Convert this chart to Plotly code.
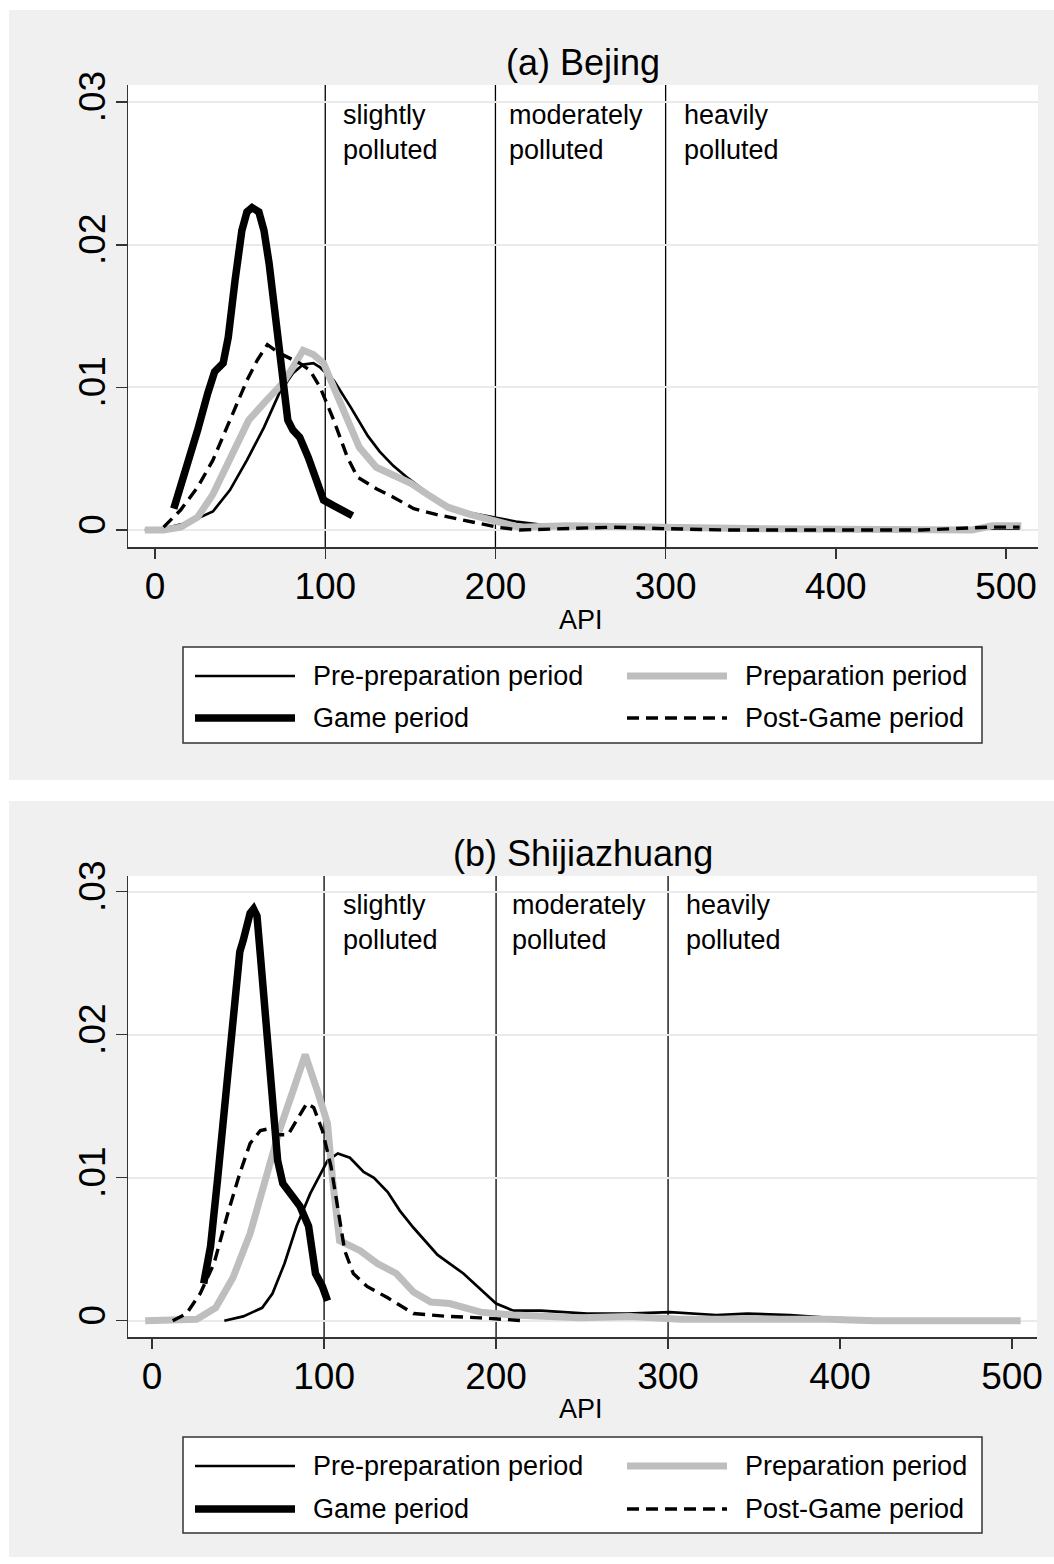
import plotly.graph_objects as go

W, H = 1054, 1564

# ---------------- data ----------------
series_names = ["Pre-preparation period", "Preparation period", "Game period", "Post-Game period"]
x_ticks = [0, 100, 200, 300, 400, 500]
y_ticks = [0, 0.01, 0.02, 0.03]
y_tick_text = ["0", ".01", ".02", ".03"]
cut_points = [100, 200, 300]
panel_titles = ["(a) Bejing", "(b) Shijiazhuang"]
category_labels = ["slightly<br>polluted", "moderately<br>polluted", "heavily<br>polluted"]

# Panel (a) Beijing
bj_pre_x = [-6, 5, 19, 34, 44, 54, 64, 73, 81, 87, 93, 97, 105, 115, 125, 132, 140, 149, 160, 172, 185, 199, 212, 225, 245, 270, 300, 350, 400, 450, 508]
bj_pre_y = [0, .0001, .0005, .0013, .0028, .0049, .0072, .0096, .0110, .0116, .0117, .0114, .0105, .0086, .0066, .0055, .0045, .0036, .0026, .0017, .0012, .0009, .0006, .0004, .0002, .0002, .0002, .0001, .0001, .0001, .0001]
bj_prep_x = [-6, 5, 15, 25, 34, 44, 55, 64, 75, 81, 87, 93, 99, 105, 113, 120, 130, 142, 150, 160, 172, 185, 199, 214, 242, 269, 298, 350, 400, 450, 480, 492, 509]
bj_prep_y = [0, 0, .0002, .0009, .0025, .0049, .0077, .0089, .0103, .0114, .0126, .0123, .0117, .0100, .0077, .0058, .0044, .0037, .0033, .0025, .0016, .0011, .0007, .0002, .0003, .0002, .0002, .0001, .0001, 0, 0, .0003, .0003]
bj_game_x = [11, 15, 19, 25, 31, 35, 40, 43, 47, 51, 54, 57, 61, 64, 67, 71, 75, 78, 81, 85, 90, 95, 99, 105, 112, 116]
bj_game_y = [.0015, .0030, .0047, .0070, .0096, .0111, .0117, .0135, .0175, .0210, .0223, .0226, .0223, .0210, .0187, .0145, .0100, .0077, .0070, .0065, .0051, .0033, .0021, .0017, .0012, .0010]
bj_post_x = [5, 15, 25, 34, 44, 54, 60, 66, 73, 85, 91, 97, 105, 113, 119, 130, 140, 152, 165, 181, 201, 214, 240, 269, 298, 338, 400, 450, 490, 508]
bj_post_y = [.0002, .0014, .0030, .0049, .0077, .0105, .0119, .0130, .0124, .0117, .0112, .0100, .0077, .0051, .0037, .0029, .0023, .0015, .0011, .0007, .0002, 0, .0001, .0002, .0001, 0, 0, 0, .0002, .0002]

# Panel (b) Shijiazhuang
sjz_pre_x = [42, 53, 64, 70, 77, 84, 92, 102, 108, 115, 123, 129, 137, 144, 152, 166, 181, 200, 210, 226, 253, 276, 301, 328, 346, 371, 394, 420]
sjz_pre_y = [0, .0003, .0009, .0019, .0040, .0066, .0089, .0112, .0117, .0114, .0104, .0100, .0090, .0077, .0065, .0046, .0033, .0012, .0007, .0007, .0005, .0005, .0006, .0004, .0005, .0004, .0002, .0001]
sjz_prep_x = [-4, 12, 26, 37, 47, 57, 67, 74, 82, 89, 96, 102, 105, 109, 121, 131, 142, 152, 162, 173, 191, 210, 249, 278, 307, 327, 365, 393, 420, 460, 505]
sjz_prep_y = [0, 0, .0001, .0009, .0030, .0061, .0103, .0133, .0161, .0186, .0161, .0138, .0098, .0056, .0049, .0040, .0033, .0020, .0013, .0012, .0006, .0004, .0002, .0003, .0001, .0001, .0002, .0001, 0, 0, 0]
sjz_game_x = [30, 34, 38, 42, 44, 48, 51, 53, 55, 57, 59, 61, 63, 65, 67, 70, 73, 76, 81, 86, 91, 95, 99, 102]
sjz_game_y = [.0026, .0052, .0098, .0145, .0180, .0225, .0258, .0266, .0275, .0285, .0288, .0283, .0255, .0225, .0191, .0145, .0112, .0096, .0089, .0080, .0066, .0033, .0024, .0014]
sjz_post_x = [12, 20, 28, 36, 44, 51, 57, 63, 67, 74, 79, 84, 90, 94, 99, 104, 108, 112, 117, 125, 137, 152, 172, 191, 216]
sjz_post_y = [0, .0005, .0019, .0040, .0075, .0103, .0124, .0133, .0134, .0130, .0130, .0140, .0152, .0149, .0133, .0108, .0077, .0049, .0033, .0024, .0016, .0005, .0003, .0002, 0]

# ---------------- styles ----------------
FONT = "Liberation Sans, Arial, sans-serif"
GRAY_BG = "#F0F0F0"
AXC = "#333333"
styles = {
    "Pre-preparation period": dict(color="black", width=2.7, dash="solid"),
    "Preparation period": dict(color="#BEBEBE", width=7, dash="solid"),
    "Game period": dict(color="black", width=7.5, dash="solid"),
    "Post-Game period": dict(color="black", width=3.4, dash="12px,7px"),
}

def fx(px):
    return px / W

def fy(py):
    return 1 - py / H

panels = [
    dict(data={"Pre-preparation period": (bj_pre_x, bj_pre_y),
               "Preparation period": (bj_prep_x, bj_prep_y),
               "Game period": (bj_game_x, bj_game_y),
               "Post-Game period": (bj_post_x, bj_post_y)},
         bg=(9, 10, 1054, 780), plot=(128, 85, 1038, 547),
         xr=[-15.9, 518.8], yr=[-0.00119, 0.0312],
         title_y=63, api_y=620,
         cat_x=[341, 507, 682], cat_y=132,
         legend=(183, 647, 982, 743), rows=(676, 718)),
    dict(data={"Pre-preparation period": (sjz_pre_x, sjz_pre_y),
               "Preparation period": (sjz_prep_x, sjz_prep_y),
               "Game period": (sjz_game_x, sjz_game_y),
               "Post-Game period": (sjz_post_x, sjz_post_y)},
         bg=(9, 801, 1054, 1557), plot=(128, 876, 1037, 1337),
         xr=[-14.0, 514.5], yr=[-0.00114, 0.0311],
         title_y=853, api_y=1409,
         cat_x=[341, 510, 684], cat_y=922,
         legend=(183, 1437, 982, 1533), rows=(1466, 1509)),
]

fig = go.Figure()
shapes = []
annotations = []
draw_order = ["Pre-preparation period", "Preparation period", "Post-Game period", "Game period"]

layout_axes = {}
for i, p in enumerate(panels):
    n = "" if i == 0 else str(i + 1)
    xa, ya = "x" + n, "y" + n
    x0, y0, x1, y1 = p["bg"]
    shapes.append(dict(type="rect", xref="paper", yref="paper", x0=fx(x0), x1=fx(x1), y0=fy(y1), y1=fy(y0),
                       fillcolor=GRAY_BG, line=dict(width=0), layer="below"))
    l, t, r, b = p["plot"]
    shapes.append(dict(type="rect", xref="paper", yref="paper", x0=fx(l), x1=fx(r), y0=fy(b), y1=fy(t),
                       fillcolor="white", line=dict(width=0), layer="below"))
    for c in cut_points:
        shapes.append(dict(type="line", xref=xa, yref=ya + " domain", x0=c, x1=c, y0=0, y1=1,
                           line=dict(color="black", width=1.3), layer="below"))

    for name in draw_order:
        xs, ys = p["data"][name]
        st = styles[name]
        fig.add_trace(go.Scatter(x=xs, y=ys, mode="lines", name=name, xaxis=xa, yaxis=ya,
                                 showlegend=False,
                                 line=dict(color=st["color"], width=st["width"], dash=st["dash"])))

    layout_axes["xaxis" + n] = dict(domain=[fx(l), fx(r)], range=p["xr"], anchor=ya, automargin=False,
                                    showgrid=False, zeroline=False, showline=True, linecolor=AXC, linewidth=1.5,
                                    ticks="outside", ticklen=10, tickwidth=1.5, tickcolor=AXC,
                                    tickvals=x_ticks, ticktext=[str(v) for v in x_ticks],
                                    ticklabelstandoff=-4,
                                    tickfont=dict(family=FONT, size=37, color="black"))
    layout_axes["yaxis" + n] = dict(domain=[fy(b), fy(t)], range=p["yr"], anchor=xa, automargin=False,
                                    showgrid=True, gridcolor="#EAEAEA", gridwidth=2, zeroline=False,
                                    showline=True, linecolor=AXC, linewidth=1.5,
                                    ticks="outside", ticklen=11, tickwidth=1.5, tickcolor=AXC,
                                    tickvals=y_ticks, ticktext=y_tick_text, tickangle=-90,
                                    ticklabelstandoff=-4,
                                    tickfont=dict(family=FONT, size=37, color="black"))

    annotations.append(dict(text=panel_titles[i], xref="paper", yref="paper", x=fx(583), y=fy(p["title_y"]),
                            xanchor="center", yanchor="middle", showarrow=False,
                            font=dict(family=FONT, size=36, color="black")))
    annotations.append(dict(text="API", xref="paper", yref="paper", x=fx(581), y=fy(p["api_y"]),
                            xanchor="center", yanchor="middle", showarrow=False,
                            font=dict(family=FONT, size=27, color="black")))
    for label, px in zip(category_labels, p["cat_x"]):
        annotations.append(dict(text=label, xref="paper", yref="paper", x=fx(px), y=fy(p["cat_y"]),
                                xanchor="left", yanchor="middle", align="left", showarrow=False,
                                font=dict(family=FONT, size=27, color="black")))
    lx0, ly0, lx1, ly1 = p["legend"]
    shapes.append(dict(type="rect", xref="paper", yref="paper", x0=fx(lx0), x1=fx(lx1), y0=fy(ly1), y1=fy(ly0),
                       fillcolor="white", line=dict(color=AXC, width=1.5), layer="above"))
    slots = [("Pre-preparation period", 195, 311, p["rows"][0]),
             ("Preparation period", 627, 743, p["rows"][0]),
             ("Game period", 195, 311, p["rows"][1]),
             ("Post-Game period", 627, 743, p["rows"][1])]
    for name, sx, tx, ry in slots:
        st = styles[name]
        shapes.append(dict(type="line", xref="paper", yref="paper", x0=fx(sx), x1=fx(sx + 100), y0=fy(ry), y1=fy(ry),
                           line=dict(color=st["color"], width=st["width"], dash=st["dash"]), layer="above"))
        annotations.append(dict(text=name, xref="paper", yref="paper", x=fx(tx), y=fy(ry),
                                xanchor="left", yanchor="middle", showarrow=False,
                                font=dict(family=FONT, size=27, color="black")))

fig.update_layout(
    width=W, height=H, margin=dict(l=0, r=0, t=0, b=0, pad=0, autoexpand=False),
    paper_bgcolor="white", plot_bgcolor="rgba(0,0,0,0)",
    showlegend=False, shapes=shapes, annotations=annotations,
    font=dict(family=FONT, color="black"),
    **layout_axes,
)

page_fix = (
    "document.documentElement.style.margin='0';"
    "document.body.style.margin='0';"
)

fig.write_html("out.html", post_script=page_fix,
               config={"displayModeBar": False, "staticPlot": True})
